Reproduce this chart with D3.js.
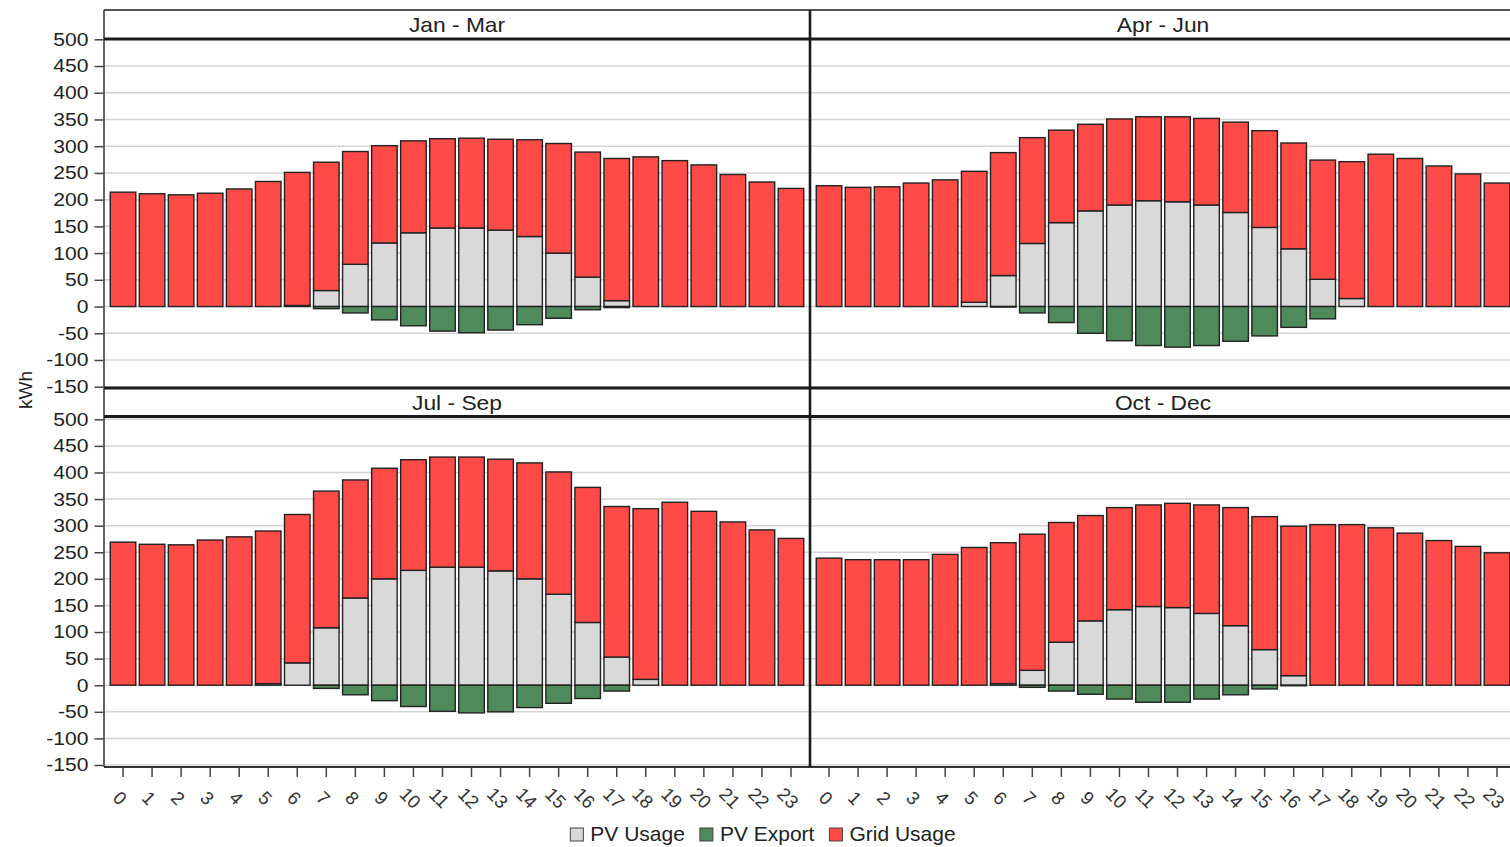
<!DOCTYPE html>
<html>
<head>
<meta charset="utf-8">
<script src="https://cdn.jsdelivr.net/npm/d3@7"></script>
<style>
  html, body { margin: 0; padding: 0; background: #fff; }
  svg { display: block; font-family: "Liberation Sans", Arial, Helvetica, sans-serif; }
</style>
</head>
<body>
<svg id="chart" width="1510" height="847"></svg>
<script>
// ---------- DATA ----------
const hours = ["0","1","2","3","4","5","6","7","8","9","10","11","12","13","14","15","16","17","18","19","20","21","22","23"];
const quarters = ["Jan - Mar", "Apr - Jun", "Jul - Sep", "Oct - Dec"];
const yTickValues = [-150, -100, -50, 0, 50, 100, 150, 200, 250, 300, 350, 400, 450, 500];
const seriesNames = ["PV Usage", "PV Export", "Grid Usage"];

const pvUsageQ1 = [0,0,0,0,0,0,2,30,79,119,138,147,147,143,131,100,55,11,0,0,0,0,0,0];
const pvExportQ1 = [0,0,0,0,0,0,0,-4,-12,-25,-36,-46,-49,-44,-34,-22,-6,-2,0,0,0,0,0,0];
const gridUsageQ1 = [214,211,209,212,220,234,249,240,211,182,172,167,168,170,181,205,234,266,280,273,265,247,233,221];

const pvUsageQ2 = [0,0,0,0,0,8,58,118,157,179,190,198,196,190,176,148,108,51,15,0,0,0,0,0];
const pvExportQ2 = [0,0,0,0,0,0,-1,-12,-30,-50,-64,-73,-76,-73,-65,-55,-39,-23,0,0,0,0,0,0];
const gridUsageQ2 = [226,223,224,231,237,245,230,198,173,162,161,157,159,162,169,181,198,223,256,285,277,263,248,231];

const pvUsageQ3 = [0,0,0,0,0,3,42,108,164,200,216,222,222,215,200,171,118,53,11,0,0,0,0,0];
const pvExportQ3 = [0,0,0,0,0,0,0,-6,-18,-29,-40,-49,-52,-50,-42,-34,-25,-11,0,0,0,0,0,0];
const gridUsageQ3 = [269,265,264,273,279,287,279,257,222,208,208,207,207,210,218,230,254,283,321,344,327,307,292,276];

const pvUsageQ4 = [0,0,0,0,0,0,3,28,81,121,142,148,146,135,112,67,18,0,0,0,0,0,0,0];
const pvExportQ4 = [0,0,0,0,0,0,0,-4,-11,-17,-26,-32,-32,-26,-18,-7,-1,0,0,0,0,0,0,0];
const gridUsageQ4 = [239,236,236,236,246,259,265,256,225,198,192,191,196,204,222,250,281,302,302,296,286,272,261,249];

// ---------- STYLE / LAYOUT ----------
const colors = { "PV Usage": "#d9d9d9", "PV Export": "#4f8a5b", "Grid Usage": "#ff4b47" };
const strokeCol = "#222";
const frameLeft = 104, frameRight = 1516, divider = 810, frameTop = 10, frameBottom = 767;
const rows = [
  { stripTop: 10,  stripLine: 39,    yRange: [386.7, 39.3], bottomLine: 388 },
  { stripTop: 388, stripLine: 416.5, yRange: [765, 419.3],  bottomLine: 767 }
];
const cols = [frameLeft, divider];
const textStretch = 1.14;

const panels = [
  { title: quarters[0], row: 0, col: 0, pv: pvUsageQ1, ex: pvExportQ1, grid: gridUsageQ1 },
  { title: quarters[1], row: 0, col: 1, pv: pvUsageQ2, ex: pvExportQ2, grid: gridUsageQ2 },
  { title: quarters[2], row: 1, col: 0, pv: pvUsageQ3, ex: pvExportQ3, grid: gridUsageQ3 },
  { title: quarters[3], row: 1, col: 1, pv: pvUsageQ4, ex: pvExportQ4, grid: gridUsageQ4 }
];

const svg = d3.select("#chart");
const gMain = svg.append("g");

const yScales = rows.map(r => d3.scaleLinear().domain([-150, 500]).range(r.yRange));
const xScales = cols.map(c => d3.scaleBand().domain(hours)
  .range([c + 4.5, c + 701.5]).paddingInner(0.12).paddingOuter(0.06));

// gridlines
panels.forEach(p => {
  const y = yScales[p.row];
  const x0 = cols[p.col], x1 = p.col === 0 ? divider : frameRight;
  gMain.append("g").selectAll("line").data(yTickValues).join("line")
    .attr("x1", x0).attr("x2", x1)
    .attr("y1", d => y(d)).attr("y2", d => y(d))
    .attr("stroke", "#d4d4d4").attr("stroke-width", 1.5);
});

// bars
panels.forEach(p => {
  const y = yScales[p.row];
  const x = xScales[p.col];
  const g = gMain.append("g");
  const recs = [];
  hours.forEach((h, i) => {
    recs.push({ h, s: "PV Usage", y0: 0, y1: p.pv[i] });
    recs.push({ h, s: "Grid Usage", y0: p.pv[i], y1: p.pv[i] + p.grid[i] });
    recs.push({ h, s: "PV Export", y0: p.ex[i], y1: 0 });
  });
  g.selectAll("rect").data(recs.filter(d => d.y1 - d.y0 > 0)).join("rect")
    .attr("x", d => x(d.h))
    .attr("width", x.bandwidth())
    .attr("y", d => y(d.y1))
    .attr("height", d => y(d.y0) - y(d.y1))
    .attr("fill", d => colors[d.s])
    .attr("stroke", strokeCol)
    .attr("stroke-width", 1.4);
});

// strip titles
panels.forEach(p => {
  const r = rows[p.row];
  const x0 = cols[p.col], x1 = p.col === 0 ? divider : frameRight;
  const cx = p.col === 0 ? (x0 + x1) / 2 : (810 + 1516) / 2;
  gMain.append("text")
    .attr("transform", `translate(${cx},${r.stripLine - 7}) scale(${textStretch},1)`)
    .attr("text-anchor", "middle")
    .attr("font-size", 20)
    .attr("fill", "#222")
    .text(p.title);
});

// frame
const frame = gMain.append("g");
frame.append("line").attr("x1", frameLeft).attr("x2", frameRight).attr("y1", frameTop).attr("y2", frameTop)
  .attr("stroke", "#555").attr("stroke-width", 1.8);
frame.append("line").attr("x1", frameLeft).attr("x2", frameLeft).attr("y1", frameTop).attr("y2", frameBottom)
  .attr("stroke", "#333").attr("stroke-width", 1.5);
[rows[0].stripLine, rows[0].bottomLine, rows[1].stripLine].forEach(yy => {
  frame.append("line").attr("x1", frameLeft).attr("x2", frameRight).attr("y1", yy).attr("y2", yy)
    .attr("stroke", "#1a1a1a").attr("stroke-width", 3);
});
frame.append("line").attr("x1", frameLeft).attr("x2", frameRight).attr("y1", frameBottom).attr("y2", frameBottom)
  .attr("stroke", "#333").attr("stroke-width", 2);
frame.append("line").attr("x1", divider).attr("x2", divider).attr("y1", frameTop).attr("y2", frameBottom)
  .attr("stroke", "#1a1a1a").attr("stroke-width", 2.6);

// y axes
rows.forEach((r, i) => {
  const ax = gMain.append("g").attr("transform", `translate(${frameLeft - 0.5},0)`)
    .call(d3.axisLeft(yScales[i]).tickValues(yTickValues).tickSize(9).tickPadding(6).tickFormat(d => String(d)));
  ax.select(".domain").remove();
  ax.selectAll(".tick line").attr("stroke", "#444").attr("stroke-width", 1.5);
  ax.selectAll(".tick text")
    .attr("font-size", 18.5).attr("fill", "#222")
    .attr("font-family", "'Liberation Sans', Arial, sans-serif")
    .attr("x", null)
    .attr("transform", `translate(-15,0) scale(${textStretch},1)`);
});

// x axes
cols.forEach((c, i) => {
  const ax = gMain.append("g").attr("transform", `translate(0,${frameBottom})`)
    .call(d3.axisBottom(xScales[i]).tickSize(10).tickPadding(0));
  ax.select(".domain").remove();
  ax.selectAll(".tick line").attr("stroke", "#444").attr("stroke-width", 1.5);
  ax.selectAll(".tick text")
    .attr("font-size", 18.5).attr("fill", "#333")
    .attr("font-family", "'Liberation Sans', Arial, sans-serif")
    .attr("text-anchor", "middle")
    .attr("dominant-baseline", "central")
    .attr("y", 0).attr("dy", null)
    .attr("transform", "translate(-3,31) rotate(45)");
});

// y axis title
gMain.append("text")
  .attr("transform", "translate(32,390) rotate(-90)")
  .attr("text-anchor", "middle")
  .attr("font-size", 19)
  .attr("fill", "#222")
  .text("kWh");

// legend
const legend = gMain.append("g");
let lx = 0;
seriesNames.forEach(name => {
  const g = legend.append("g");
  g.append("rect").attr("x", 0).attr("y", -13).attr("width", 13).attr("height", 13)
    .attr("fill", colors[name]).attr("stroke", "#444").attr("stroke-width", 1);
  const t = g.append("text").attr("x", 20).attr("y", 0).attr("font-size", 21).attr("fill", "#222").text(name);
  const w = 20 + t.node().getComputedTextLength();
  g.attr("transform", `translate(${lx},0)`);
  lx += w + 15;
});
const totalW = lx - 15;
legend.attr("transform", `translate(${763 - totalW / 2},841)`);
</script>
</body>
</html>
